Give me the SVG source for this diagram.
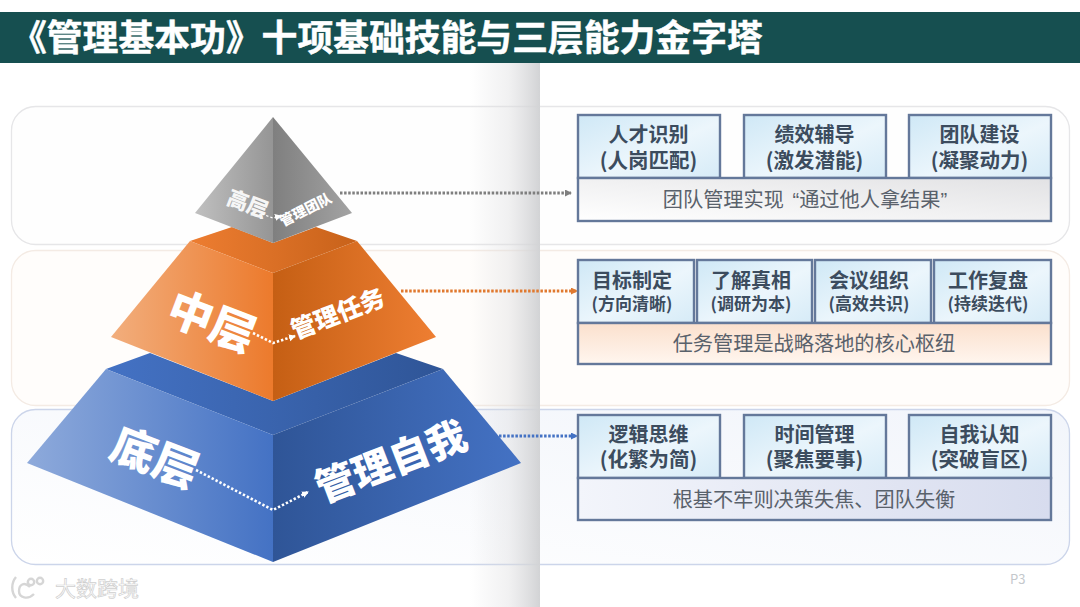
<svg xmlns="http://www.w3.org/2000/svg" width="1080" height="607" viewBox="0 0 1080 607">
<style>
text{font-family:"Noto Sans CJK SC","Noto Sans",sans-serif}
.t{font-weight:700;fill:#3c4c5e;text-anchor:middle}
.s{font-weight:400;fill:#59616b;text-anchor:middle;font-size:20.2px}
.box{fill:url(#boxg);stroke:#64789a;stroke-width:2.4}
.w{font-weight:900;fill:#fff;text-anchor:middle}
.dot{fill:none;stroke-width:3;stroke-dasharray:2.5 1.6}
.dot2{fill:none;stroke:#fff;stroke-width:2.6;stroke-dasharray:2.4 2}
</style>
<defs>
<linearGradient id="boxg" x1="0" y1="0" x2="1" y2="1"><stop offset="0" stop-color="#cfe8f6"/><stop offset=".55" stop-color="#ecf6fc"/><stop offset="1" stop-color="#d6ebf7"/></linearGradient>
<linearGradient id="shade" x1="0" x2="1"><stop offset="0" stop-color="#dcdcde" stop-opacity="0"/><stop offset=".55" stop-color="#dcdcde" stop-opacity=".4"/><stop offset="1" stop-color="#d2d3d5"/></linearGradient>
<linearGradient id="gl" gradientUnits="userSpaceOnUse" x1="195" x2="273" y1="0" y2="0"><stop offset="0" stop-color="#c0c0c0"/><stop offset="1" stop-color="#959595"/></linearGradient>
<linearGradient id="gr" gradientUnits="userSpaceOnUse" x1="273" x2="352" y1="0" y2="0"><stop offset="0" stop-color="#7f7f7f"/><stop offset="1" stop-color="#a3a3a3"/></linearGradient>
<linearGradient id="ol" gradientUnits="userSpaceOnUse" x1="111" x2="273" y1="0" y2="0"><stop offset="0" stop-color="#f2ae7d"/><stop offset="1" stop-color="#ec7a2c"/></linearGradient>
<linearGradient id="or" gradientUnits="userSpaceOnUse" x1="273" x2="436" y1="0" y2="0"><stop offset="0" stop-color="#c55f14"/><stop offset="1" stop-color="#ee7e32"/></linearGradient>
<linearGradient id="ot" gradientUnits="userSpaceOnUse" x1="190" x2="357" y1="0" y2="0"><stop offset="0" stop-color="#ed7d31"/><stop offset="1" stop-color="#c8621a"/></linearGradient>
<linearGradient id="bl" gradientUnits="userSpaceOnUse" x1="27" x2="273" y1="0" y2="0"><stop offset="0" stop-color="#8eaadb"/><stop offset="1" stop-color="#4472c4"/></linearGradient>
<linearGradient id="br" gradientUnits="userSpaceOnUse" x1="273" x2="521" y1="0" y2="0"><stop offset="0" stop-color="#2f5597"/><stop offset="1" stop-color="#4472c4"/></linearGradient>
<linearGradient id="bt" gradientUnits="userSpaceOnUse" x1="106" x2="443" y1="0" y2="0"><stop offset="0" stop-color="#4472c4"/><stop offset="1" stop-color="#2f5597"/></linearGradient>
<linearGradient id="capg" x1="0" x2="1" y1="1" y2="0"><stop offset="0" stop-color="#fff"/><stop offset="1" stop-color="#e2e2e4"/></linearGradient>
<linearGradient id="capo" x1="0" x2="0" y1="0" y2="1"><stop offset="0" stop-color="#fbe0cd"/><stop offset="1" stop-color="#fff6ef"/></linearGradient>
<linearGradient id="capb" x1="0" x2="1"><stop offset="0" stop-color="#f3f5fb"/><stop offset="1" stop-color="#d7dcee"/></linearGradient>
<linearGradient id="p3" x1="0" x2="1" y1="1" y2="0"><stop offset="0" stop-color="#fff"/><stop offset="1" stop-color="#f2f5fb"/></linearGradient>
<marker id="ag" markerWidth="8" markerHeight="8" refX="6" refY="3.5" orient="auto" markerUnits="userSpaceOnUse"><path d="M0 0L7 3.5L0 7z" fill="#7f7f7f"/></marker>
<marker id="ao" markerWidth="8" markerHeight="8" refX="6" refY="3.5" orient="auto" markerUnits="userSpaceOnUse"><path d="M0 0L7 3.5L0 7z" fill="#e0792f"/></marker>
<marker id="ab" markerWidth="8" markerHeight="8" refX="6" refY="3.5" orient="auto" markerUnits="userSpaceOnUse"><path d="M0 0L7 3.5L0 7z" fill="#4472c4"/></marker>
<marker id="aw" markerWidth="8" markerHeight="8" refX="6" refY="3.5" orient="auto" markerUnits="userSpaceOnUse"><path d="M0 0L7 3.5L0 7z" fill="#fff"/></marker>
</defs>
<rect width="1080" height="607" fill="#fff"/>
<rect x="0" y="12" width="1080" height="51" fill="#164f50"/>
<text x="11" y="51" font-size="35.800" font-weight="700" fill="#fff" stroke="#fff" stroke-width=".5">《管理基本功》十项基础技能与三层能力金字塔</text>
<g id="bands">
<rect x="11.500" y="106.500" width="1058" height="138" rx="24" fill="#fefefe" stroke="#e6e6e8" stroke-width="1.300"/>
<rect x="11.500" y="250.500" width="1058" height="155" rx="24" fill="#fffdfb" stroke="#f4ebe4" stroke-width="1.300"/>
<rect x="11.500" y="409.500" width="1058" height="155" rx="24" fill="url(#p3)" stroke="#ccd5ea" stroke-width="1.300"/>
</g>
<rect x="470" y="63" width="70" height="544" fill="url(#shade)"/>
<g id="pyramid-bottom">
<path d="M150 353L106 369L273 435L443 369L396 353L273 401z" fill="url(#bt)"/>
<path d="M106 369L27 463L273 562V435z" fill="url(#bl)"/>
<path d="M443 369L521 463L273 562V435z" fill="url(#br)"/>
<text class="w" font-size="45" transform="translate(149 473) rotate(21)">底层</text>
<text class="w" font-size="39.500" transform="translate(396 475) rotate(-21)">管理自我</text>
<path class="dot2" d="M196 470L273 510L308 492" marker-end="url(#aw)"/>
</g>
<g id="pyramid-middle">
<path d="M232 227L190 241L273 273L357 241L316 227L273 243z" fill="url(#ot)"/>
<path d="M190 241L111 337L273 401V273z" fill="url(#ol)"/>
<path d="M357 241L436 337L273 401V273z" fill="url(#or)"/>
<text class="w" font-size="45" transform="translate(206 337) rotate(21)">中层</text>
<text class="w" font-size="24.500" transform="translate(341 322) rotate(-21)">管理任务</text>
<path class="dot2" d="M253 333L273 343L295 336" marker-end="url(#aw)"/>
</g>
<g id="pyramid-top">
<path d="M273 117L195 213L273 243z" fill="url(#gl)"/>
<path d="M273 117L352 213L273 243z" fill="url(#gr)"/>
<text class="w" font-size="21" transform="translate(245 211) rotate(21)" style="fill:#f6f6f6">高层</text>
<text class="w" font-size="14" transform="translate(308 214) rotate(-27)">管理团队</text>
<path class="dot2" style="stroke-width:1.200" d="M262 214L273 218L281 216" marker-end="url(#aw)"/>
</g>
<g id="connectors">
<path class="dot" stroke="#7f7f7f" d="M340 193H571" marker-end="url(#ag)"/>
<path class="dot" stroke="#e0792f" d="M401 291H577" marker-end="url(#ao)"/>
<path class="dot" stroke="#4472c4" d="M499 436H577" marker-end="url(#ab)"/>
</g>
<g id="row-top">
<g id="n-rencai"><rect class="box" x="578" y="115" width="142" height="63"/><text class="t" font-size="20" x="648.500" y="142">人才识别</text><text class="t" font-size="20.500" x="648.500" y="168">(人岗匹配)</text></g>
<g id="n-jixiao"><rect class="box" x="744" y="115" width="142" height="63"/><text class="t" font-size="20" x="814.500" y="142">绩效辅导</text><text class="t" font-size="20.500" x="814.500" y="168">(激发潜能)</text></g>
<g id="n-tuandui"><rect class="box" x="909" y="115" width="142" height="63"/><text class="t" font-size="20" x="979.500" y="142">团队建设</text><text class="t" font-size="20.500" x="979.500" y="168">(凝聚动力)</text></g>
<g id="n-cap1"><rect x="578" y="178" width="473" height="43" fill="url(#capg)" stroke="#64789a" stroke-width="2.400"/><text class="s" x="805" y="207">团队管理实现 <tspan dx="4" font-family="Liberation Sans">“</tspan>通过他人拿结果<tspan font-family="Liberation Sans">”</tspan></text></g>
</g>
<g id="row-mid">
<g id="n-mubiao"><rect class="box" x="578" y="260" width="116" height="63"/><text class="t" font-size="20" x="632" y="288">目标制定</text><text class="t" font-size="17" x="632" y="310">(方向清晰)</text></g>
<g id="n-liaojie"><rect class="box" x="697" y="260" width="115" height="63"/><text class="t" font-size="20" x="751" y="288">了解真相</text><text class="t" font-size="17" x="751" y="310">(调研为本)</text></g>
<g id="n-huiyi"><rect class="box" x="815" y="260" width="116" height="63"/><text class="t" font-size="20" x="869" y="288">会议组织</text><text class="t" font-size="17" x="869" y="310">(高效共识)</text></g>
<g id="n-gongzuo"><rect class="box" x="934" y="260" width="117" height="63"/><text class="t" font-size="20" x="988" y="288">工作复盘</text><text class="t" font-size="17" x="988" y="310">(持续迭代)</text></g>
<g id="n-cap2"><rect x="578" y="323" width="473" height="41" fill="url(#capo)" stroke="#64789a" stroke-width="2.400"/><text class="s" x="814" y="351">任务管理是战略落地的核心枢纽</text></g>
</g>
<g id="row-bottom">
<g id="n-luoji"><rect class="box" x="578" y="415" width="142" height="63"/><text class="t" font-size="20" x="648.500" y="442">逻辑思维</text><text class="t" font-size="20.500" x="648.500" y="467">(化繁为简)</text></g>
<g id="n-shijian"><rect class="box" x="744" y="415" width="142" height="63"/><text class="t" font-size="20" x="814.500" y="442">时间管理</text><text class="t" font-size="20.500" x="814.500" y="467">(聚焦要事)</text></g>
<g id="n-ziwo"><rect class="box" x="909" y="415" width="142" height="63"/><text class="t" font-size="20" x="979.500" y="442">自我认知</text><text class="t" font-size="20.500" x="979.500" y="467">(突破盲区)</text></g>
<g id="n-cap3"><rect x="578" y="478" width="473" height="42" fill="url(#capb)" stroke="#64789a" stroke-width="2.400"/><text class="s" x="814" y="507">根基不牢则决策失焦、团队失衡</text></g>
</g>
<text x="1010" y="584" font-size="13" fill="#c4c8cc" font-family="Liberation Sans,sans-serif">P3</text>
<text x="55" y="596" font-size="21" fill="#fff" stroke="#cfcfcf" stroke-width=".7">大数跨境</text>
<g id="logo" fill="none" stroke="#d6d6d6" stroke-width="2.400"><path d="M16 577C11 583 11 592 16 598"/><path d="M30 587C24 581 19 585 19 591C19 598 28 600 34 594"/><circle cx="31" cy="582" r="3.200"/><circle cx="40" cy="581" r="3.200"/></g>
</svg>
